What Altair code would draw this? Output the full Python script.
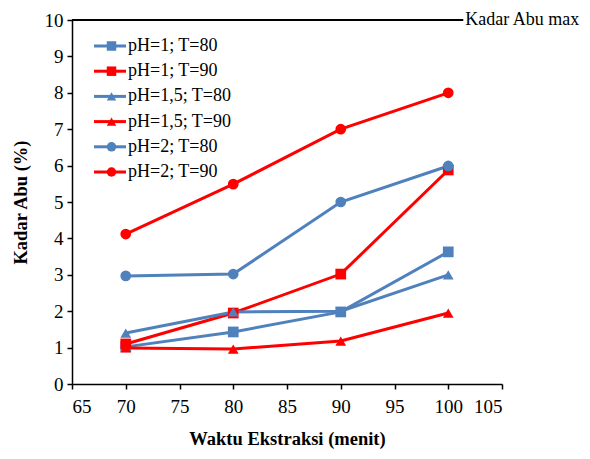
import altair as alt
import pandas as pd

# ---- data ----
waktu = [70, 80, 90, 100]
series_names = ["pH=1; T=80", "pH=1; T=90", "pH=1,5; T=80",
                "pH=1,5; T=90", "pH=2; T=80", "pH=2; T=90"]
ph1_t80 = [1.02, 1.43, 1.98, 3.63]
ph1_t90 = [1.10, 1.95, 3.02, 5.88]
ph15_t80 = [1.40, 1.98, 2.00, 3.00]
ph15_t90 = [0.99, 0.96, 1.18, 1.95]
ph2_t80 = [2.97, 3.02, 5.00, 5.99]
ph2_t90 = [4.12, 5.49, 7.00, 8.00]
series_colors = ["#4F81BD", "#FF0000", "#4F81BD", "#FF0000", "#4F81BD", "#FF0000"]
series_shapes = ["square", "square", "triangle-up", "triangle-up", "circle", "circle"]

max_x = [65, 101.4]
max_y = [10, 10]
max_label = "Kadar Abu max"

x_ticks = [65, 70, 75, 80, 85, 90, 95, 100, 105]
y_ticks = [0, 1, 2, 3, 4, 5, 6, 7, 8, 9, 10]

FONT = "Liberation Serif"

all_vals = [ph1_t80, ph1_t90, ph15_t80, ph15_t90, ph2_t80, ph2_t90]
rows = []
for name, vals in zip(series_names, all_vals):
    for xv, yv in zip(waktu, vals):
        rows.append({"series": name, "waktu": xv, "kadar": yv})
df = pd.DataFrame(rows)
df_max = pd.DataFrame({"waktu": max_x, "kadar": max_y})
df_lab = pd.DataFrame({"waktu": [max_x[-1]], "kadar": [max_y[-1]], "label": [max_label]})

x_axis = alt.Axis(values=x_ticks, title="Waktu Ekstraksi (menit)", grid=False,
                  labelOverlap=False)
y_axis = alt.Axis(values=y_ticks, title="Kadar Abu (%)", grid=False,
                  labelOverlap=False, tickCount=11)
x_enc = alt.X("waktu:Q", scale=alt.Scale(domain=[65, 105], nice=False), axis=x_axis)
y_enc = alt.Y("kadar:Q", scale=alt.Scale(domain=[0, 10], nice=False), axis=y_axis)

LEG_Y = 17
LEG_PAD = 7.2
LEG_FS = 18

base = alt.Chart(df)

lines = base.mark_line(strokeWidth=3).encode(
    x=x_enc, y=y_enc,
    color=alt.Color("series:N",
                    scale=alt.Scale(domain=series_names, range=series_colors),
                    legend=alt.Legend(orient="none", legendX=29, legendY=LEG_Y,
                                      title=None, symbolType="M-3.2,0L3.2,0",
                                      symbolSize=100, symbolStrokeWidth=3,
                                      labelFont=FONT, labelFontSize=LEG_FS,
                                      labelColor="black", labelOffset=9,
                                      rowPadding=LEG_PAD)),
    order="waktu:Q",
)

pt_legend = alt.Legend(orient="none", legendX=30.5, legendY=LEG_Y,
                       title=None, symbolSize=90, symbolStrokeWidth=0,
                       symbolOpacity=1, labelOpacity=0,
                       labelFont=FONT, labelFontSize=LEG_FS,
                       labelOffset=12.5, rowPadding=LEG_PAD)

points = base.mark_point(filled=True, size=115, opacity=1).encode(
    x=x_enc, y=y_enc,
    color=alt.Color("series:N",
                    scale=alt.Scale(domain=series_names, range=series_colors),
                    legend=pt_legend),
    shape=alt.Shape("series:N",
                    scale=alt.Scale(domain=series_names, range=series_shapes),
                    legend=pt_legend),
)

max_line = alt.Chart(df_max).mark_line(color="black", strokeWidth=2).encode(
    x=x_enc, y=y_enc)
max_text = alt.Chart(df_lab).mark_text(align="left", baseline="middle", dx=2,
                                       font=FONT, fontSize=18, color="black").encode(
    x=x_enc, y=y_enc, text="label:N")

chart = alt.layer(lines, points, max_line, max_text).resolve_scale(
    color="independent", shape="independent"
).properties(
    width=430, height=364,
    autosize=alt.AutoSizeParams(type="none"),
    padding={"left": 64, "top": 12, "right": 80, "bottom": 67},
).configure_view(stroke=None).configure_axis(
    labelFont=FONT, labelFontSize=19, labelColor="black",
    titleFont=FONT, titleFontSize=18.5, titleFontWeight="bold", titleColor="black",
    domainColor="black", tickColor="black", domainWidth=1.5, tickWidth=1.5,
    tickSize=5, labelPadding=4,
).configure_axisX(titlePadding=13, labelPadding=8).configure_axisY(titlePadding=14)

chart.save("out.html", embed_options={"renderer": "svg", "actions": False})
